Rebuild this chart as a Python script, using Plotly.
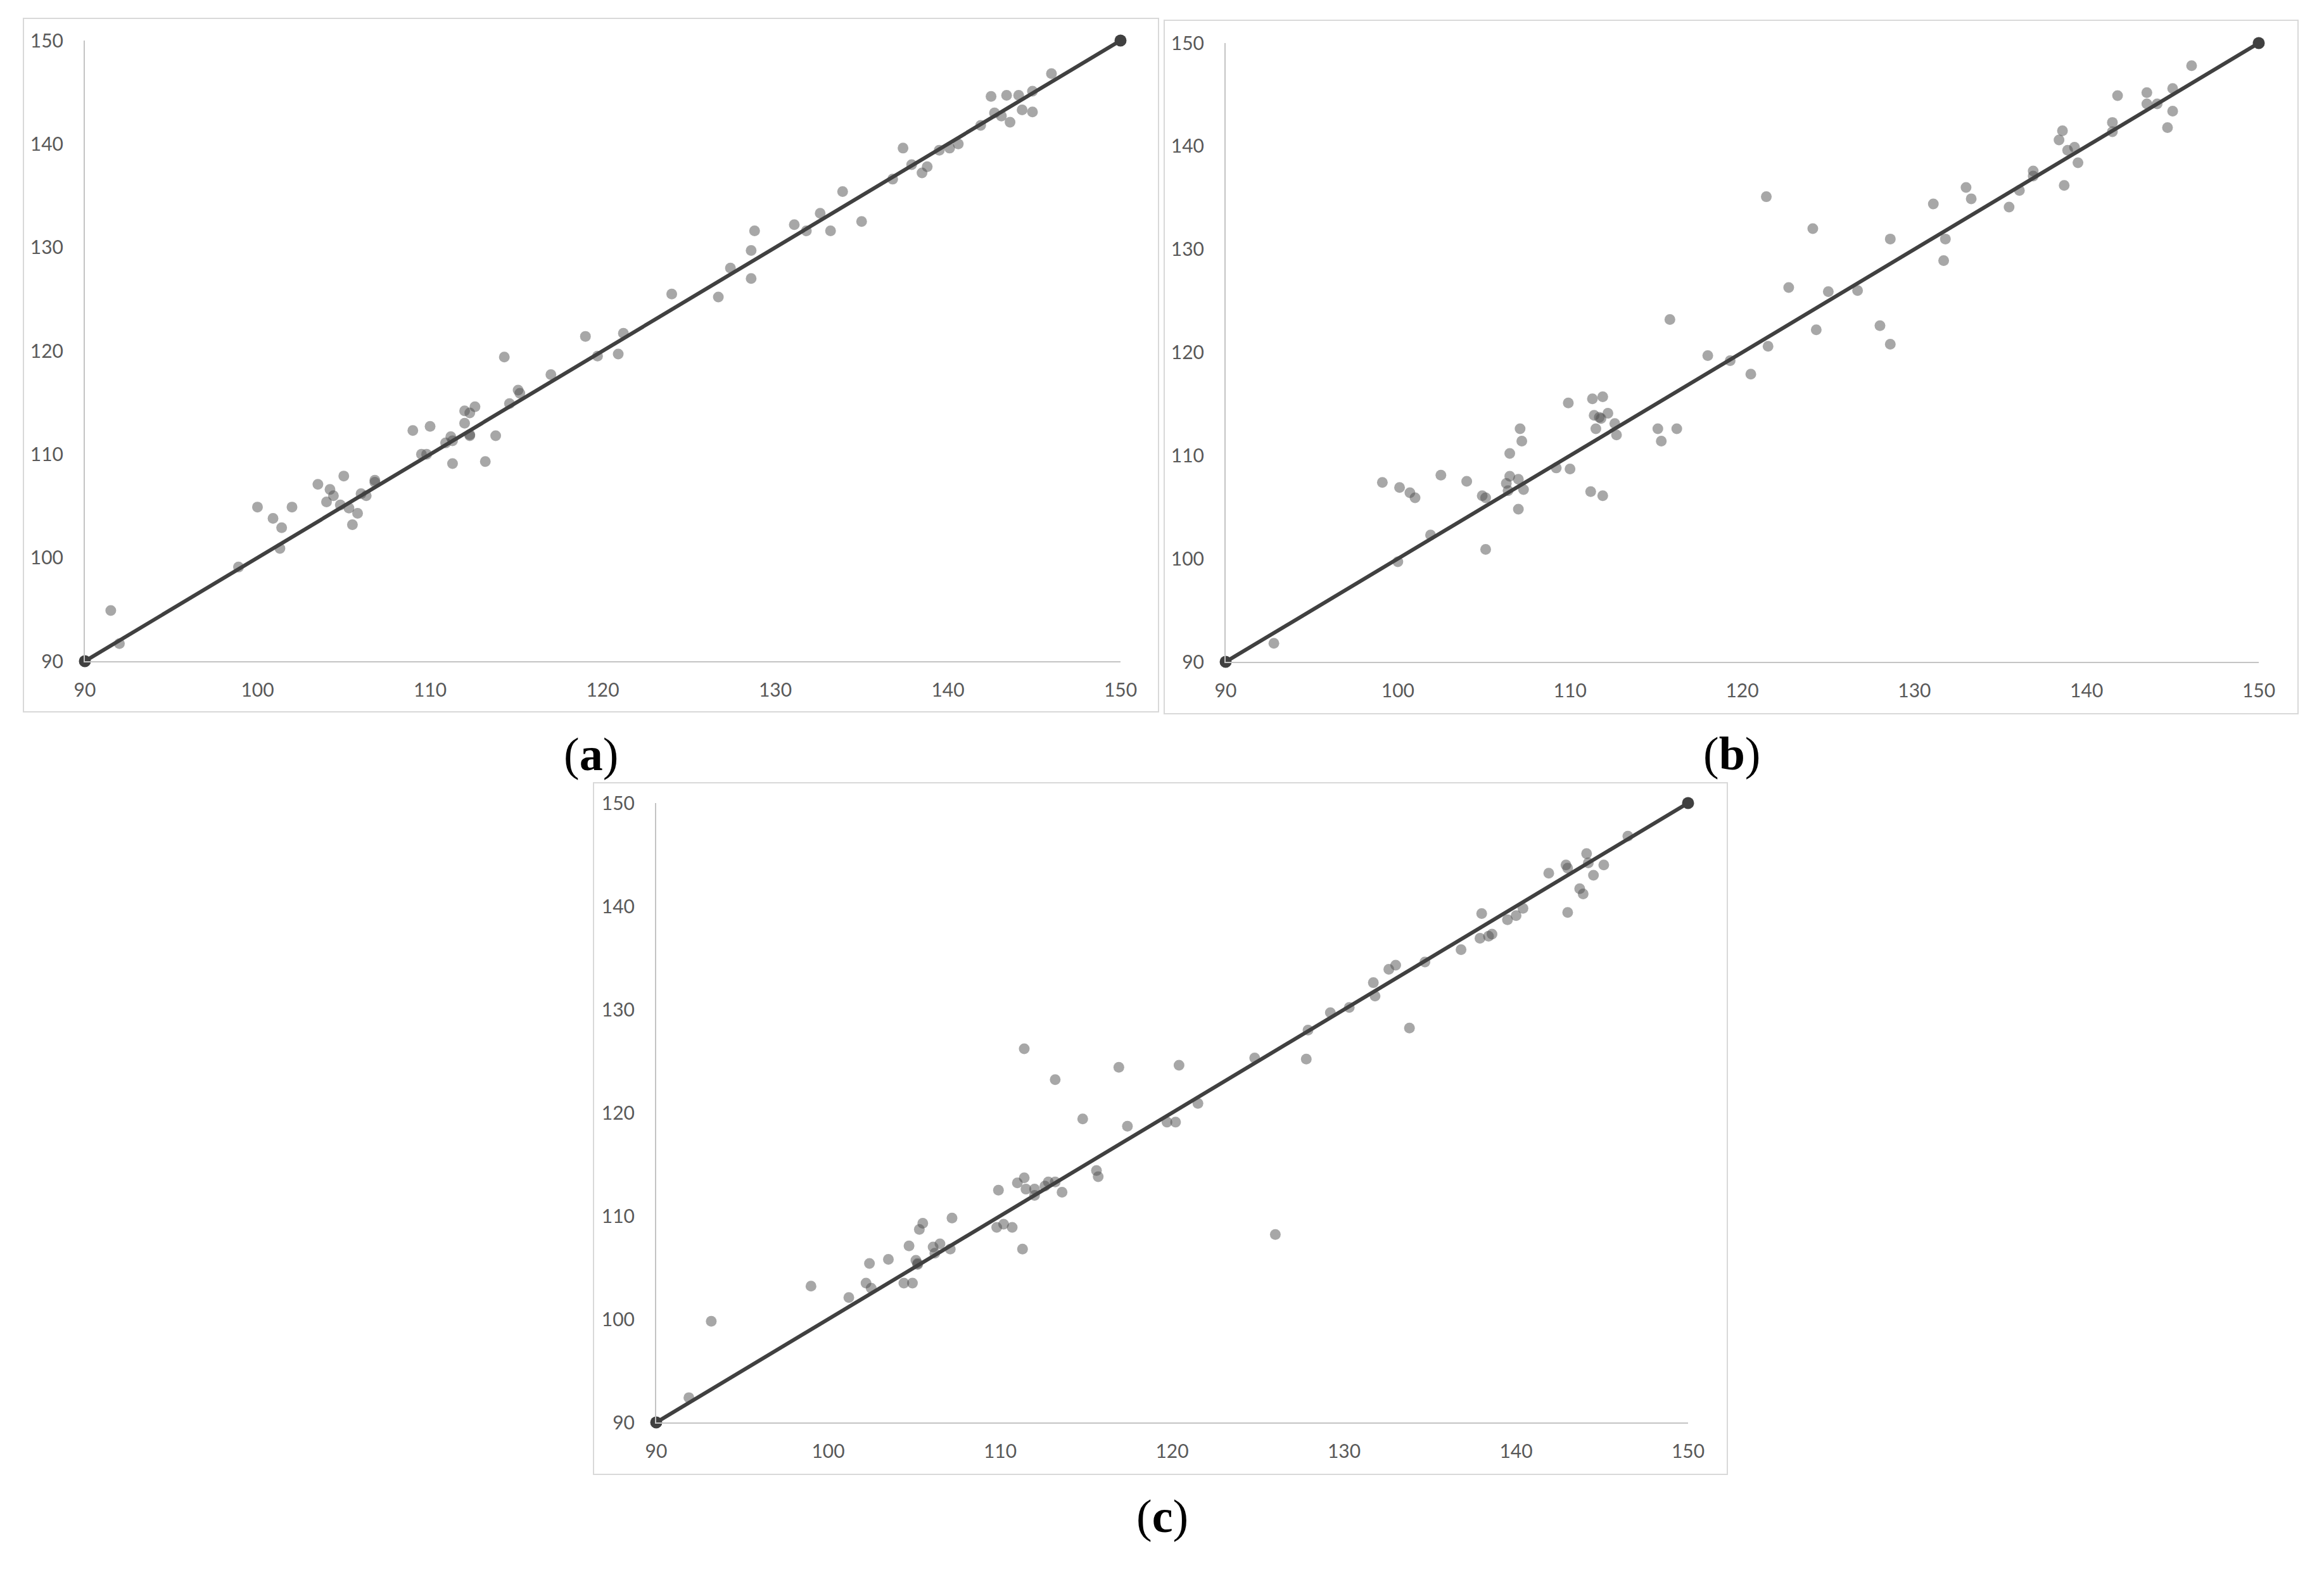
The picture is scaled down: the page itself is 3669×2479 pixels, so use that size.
import plotly.graph_objects as go

# ---------------- data ----------------
a_x = [91.5, 92.0, 98.9, 100.0, 100.9, 101.4, 101.3, 102.0, 103.5, 104.2, 104.4, 104.0, 105.0, 104.8,
       105.3, 105.8, 105.5, 106.0, 106.3, 106.8, 106.8, 109.0, 110.0, 109.5, 109.8, 110.9, 111.2, 111.3,
       111.3, 112.0, 112.0, 112.3, 112.6, 112.3, 112.3, 113.2, 113.8, 114.3, 114.6, 115.1, 115.2, 117.0,
       119.0, 119.7, 120.9, 121.2, 124.0, 126.7, 127.4, 128.6, 128.8, 128.6, 131.1, 131.8, 132.6, 133.2,
       133.9, 135.0, 136.8, 137.4, 137.9, 138.5, 138.8, 139.5, 140.1, 140.6, 141.9, 142.5, 142.7, 143.1,
       143.4, 143.6, 144.1, 144.3, 144.9, 144.9, 146.0]
a_y = [94.9, 91.7, 99.1, 104.9, 103.8, 102.9, 100.9, 104.9, 107.1, 106.6, 106.0, 105.4, 107.9, 105.1,
       104.8, 104.3, 103.2, 106.2, 106.0, 107.5, 107.3, 112.3, 112.7, 110.0, 110.0, 111.1, 111.7, 111.3,
       109.1, 114.2, 113.0, 114.0, 114.6, 111.8, 111.9, 109.3, 111.8, 119.4, 114.9, 116.2, 115.9, 117.7,
       121.4, 119.5, 119.7, 121.7, 125.5, 125.2, 128.0, 129.7, 131.6, 127.0, 132.2, 131.6, 133.3, 131.6,
       135.4, 132.5, 136.6, 139.6, 138.0, 137.2, 137.8, 139.4, 139.6, 140.0, 141.8, 144.6, 143.0, 142.7,
       144.7, 142.1, 144.7, 143.3, 145.1, 143.1, 146.8]

b_x = [92.8, 99.1, 100.0, 100.1, 100.7, 101.0, 101.9, 102.5, 104.0, 104.9, 105.1, 105.1, 106.5, 106.5,
       106.3, 106.4, 107.0, 107.1, 107.2, 107.3, 107.0, 109.2, 109.9, 110.0, 111.2, 111.3, 111.9, 111.4,
       111.8, 111.7, 112.2, 111.5, 112.6, 112.7, 111.9, 115.1, 115.3, 116.2, 115.8, 118.0, 119.3, 120.5,
       121.5, 121.4, 122.7, 124.1, 124.3, 125.0, 126.7, 128.0, 128.6, 128.6, 131.1, 131.8, 131.7, 133.0,
       133.3, 135.5, 136.1, 136.9, 136.9, 138.7, 138.4, 138.6, 138.9, 139.3, 139.5, 141.5, 141.5, 141.8,
       143.5, 143.5, 144.1, 145.0, 145.0, 144.7, 146.1]
b_y = [91.8, 107.4, 99.7, 106.9, 106.4, 105.9, 102.3, 108.1, 107.5, 106.1, 105.9, 100.9, 110.2, 108.0,
       107.3, 106.6, 107.7, 112.6, 111.4, 106.7, 104.8, 108.8, 115.1, 108.7, 106.5, 115.5, 115.7, 113.9,
       113.6, 113.7, 114.1, 112.6, 113.1, 112.0, 106.1, 112.6, 111.4, 112.6, 123.2, 119.7, 119.2, 117.9,
       120.6, 135.1, 126.3, 132.0, 122.2, 125.9, 126.0, 122.6, 131.0, 120.8, 134.4, 131.0, 128.9, 136.0,
       134.9, 134.1, 135.7, 137.6, 137.1, 136.2, 140.6, 141.5, 139.6, 139.9, 138.4, 142.3, 141.4, 144.9,
       145.2, 144.1, 144.1, 145.6, 143.4, 141.8, 147.8]

c_x = [91.9, 93.2, 99.0, 101.2, 102.2, 102.5, 102.4, 103.5, 104.4, 104.9, 104.7, 105.1, 105.2, 105.2,
       105.3, 105.5, 106.1, 106.2, 106.5, 107.1, 107.2, 109.8, 109.9, 110.2, 110.7, 111.3, 111.0, 111.4,
       111.5, 112.0, 112.0, 112.6, 112.8, 113.2, 113.6, 111.4, 113.2, 114.8, 115.6, 115.7, 116.9, 117.4,
       119.7, 120.2, 120.4, 121.5, 124.8, 126.0, 127.8, 127.9, 129.2, 130.3, 131.7, 131.8, 132.6, 133.0,
       133.8, 134.7, 136.8, 138.0, 137.9, 138.4, 138.6, 139.5, 140.0, 140.4, 141.9, 142.9, 143.0, 143.0,
       143.7, 143.9, 144.1, 144.2, 144.5, 145.1, 146.5]
c_y = [92.4, 99.8, 103.2, 102.1, 103.5, 103.0, 105.4, 105.8, 103.5, 103.5, 107.1, 105.7, 105.3, 105.4,
       108.7, 109.3, 107.0, 106.4, 107.3, 106.8, 109.8, 108.9, 112.5, 109.2, 108.9, 106.8, 113.2, 113.7,
       112.6, 112.6, 112.0, 112.9, 113.3, 113.3, 112.3, 126.2, 123.2, 119.4, 114.4, 113.8, 124.4, 118.7,
       119.1, 119.1, 124.6, 120.9, 125.3, 108.2, 125.2, 128.0, 129.7, 130.2, 132.6, 131.3, 133.9, 134.3,
       128.2, 134.6, 135.8, 139.3, 136.9, 137.1, 137.3, 138.7, 139.1, 139.8, 143.2, 144.0, 143.7, 139.4,
       141.7, 141.2, 145.1, 144.2, 143.0, 144.0, 146.8]

line_x = [90, 150]
line_y = [90, 150]
tick_vals = [90, 100, 110, 120, 130, 140, 150]
panel_labels = ["a", "b", "c"]

# ---------------- layout geometry (pixels) ----------------
W, H = 3669, 2479
def px(x):
    return x / W
def py(y):
    return 1 - y / H

plots = [  # x0, x1, ytop, ybottom of plot area
    (134, 1769, 64, 1044),
    (1935, 3566, 68, 1045),
    (1036, 2665, 1268, 2246),
]
boxes = [
    (37, 1829, 29, 1124),
    (1838, 3628, 32, 1127),
    (937, 2727, 1236, 2328),
]
label_pos = [(933, 1191), (2734, 1190), (1835, 2394)]

series = [(a_x, a_y), (b_x, b_y), (c_x, c_y)]

fig = go.Figure()
pt_color = "rgba(80,80,80,0.5)"
line_color = "#404040"

for i, (sx, sy) in enumerate(series):
    n = "" if i == 0 else str(i + 1)
    fig.add_trace(go.Scatter(
        x=sx, y=sy, mode="markers", xaxis="x" + n, yaxis="y" + n,
        marker=dict(size=17, color=pt_color, line=dict(width=0)),
        showlegend=False, hoverinfo="x+y"))
    fig.add_trace(go.Scatter(
        x=line_x, y=line_y, mode="lines+markers", xaxis="x" + n, yaxis="y" + n,
        line=dict(color=line_color, width=6),
        marker=dict(size=19, color=line_color),
        cliponaxis=False, showlegend=False, hoverinfo="skip"))

tickfont = dict(family="Lato, Carlito, Calibri, sans-serif", size=30, color="#595959")
layout = dict(
    template="none",
    width=W, height=H,
    margin=dict(l=0, r=0, t=0, b=0, pad=0, autoexpand=False),
    paper_bgcolor="white", plot_bgcolor="white",
    showlegend=False,
)
for i, (x0, x1, yt, yb) in enumerate(plots):
    n = "" if i == 0 else str(i + 1)
    layout["xaxis" + n] = dict(
        domain=[px(x0), px(x1)], range=[90, 150], anchor="y" + n,
        tickvals=tick_vals, ticks="", showgrid=False, zeroline=False,
        showline=True, linecolor="#c4c4c4", linewidth=2, automargin=False,
        tickfont=tickfont, ticklabelstandoff=18, fixedrange=True)
    layout["yaxis" + n] = dict(
        domain=[py(yb), py(yt)], range=[90, 150], anchor="x" + n,
        tickvals=tick_vals, ticks="", showgrid=False, zeroline=False,
        showline=True, linecolor="#c4c4c4", linewidth=2, automargin=False,
        tickfont=tickfont, ticklabelstandoff=26, fixedrange=True)

fig.update_layout(**layout)

for (x0, x1, yt, yb) in boxes:
    fig.add_shape(type="rect", xref="paper", yref="paper",
                  x0=px(x0), x1=px(x1), y0=py(yb), y1=py(yt),
                  line=dict(color="#d9d9d9", width=2), layer="below")

for lab, (lx, ly) in zip(panel_labels, label_pos):
    fig.add_annotation(text="(<b>" + lab + "</b>)", xref="paper", yref="paper",
                       x=px(lx), y=py(ly), xanchor="center", yanchor="middle",
                       showarrow=False,
                       font=dict(family="Liberation Serif, Times New Roman, serif",
                                 size=74, color="black"))

fig.write_html("out.html", config={"displayModeBar": False, "staticPlot": True},
               post_script="document.body.style.margin='0';document.body.style.overflow='hidden';")
